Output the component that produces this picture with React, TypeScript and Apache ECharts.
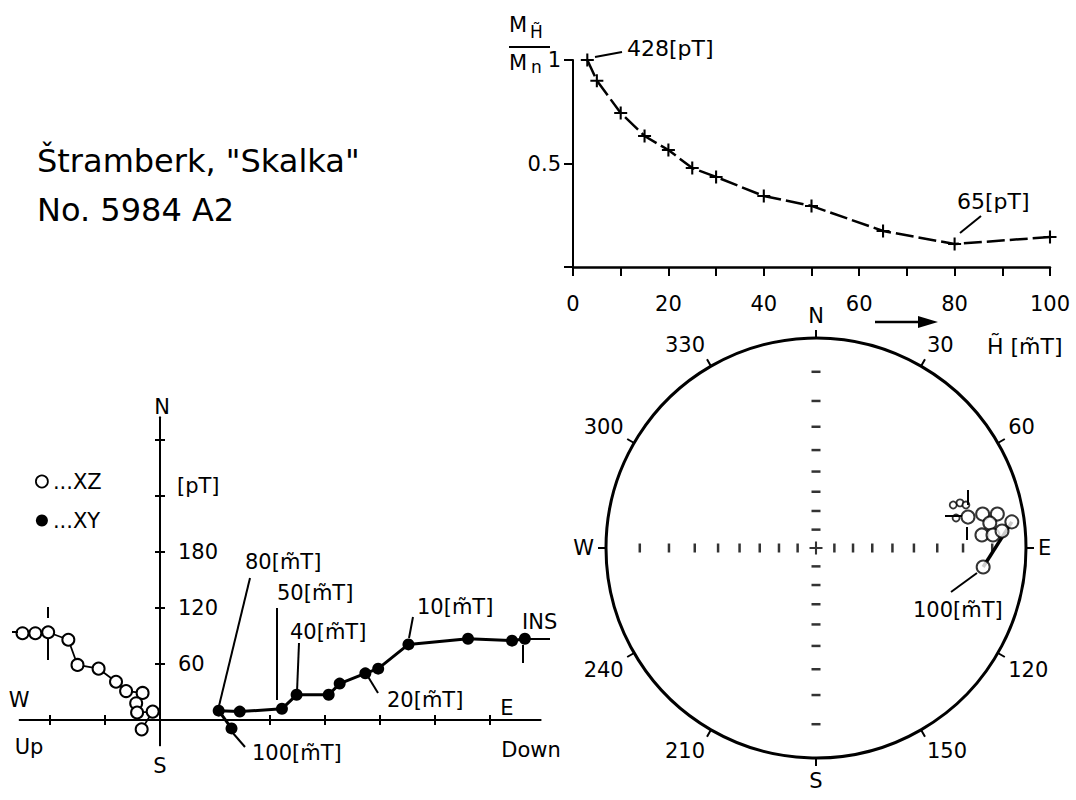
import React, { useEffect, useRef } from "react";
import * as echarts from "echarts";

// ---------- Demagnetisation curve (top right) ----------
const fieldSteps = [3, 5, 10, 15, 20, 25, 30, 40, 50, 65, 80, 100]; // H [mT]
const intensityRatio = [1.0, 0.9, 0.744, 0.633, 0.565, 0.478, 0.435, 0.343, 0.295, 0.174, 0.111, 0.145]; // M_H / M_n

// ---------- Zijderveld diagram (bottom left) ----------
// XY projection (filled): horizontal E component, vertical N component [pT]
const xyEast = [398, 384, 336, 271, 238, 224, 196, 184, 149, 133, 87, 64, 78];
const xyNorth = [87, 85, 87, 81, 55, 50, 39, 27, 27, 12, 9, 10, -9];
// XZ projection (open): horizontal Up/Down component, vertical N component [pT]
const xzVertical = [-150, -136, -122, -100, -90, -67, -48, -37, -19, -26, -25, -8, -20];
const xzNorth = [93, 93, 94, 86, 59, 55, 41, 31, 29, 18, 8, 9, -10];
const zijHorizontalTicks = [-120, -60, 120, 180, 240, 300, 360];
const zijVerticalTicks = [60, 120, 180, 240, 300];
const zijVerticalLabels = [60, 120, 180];

// ---------- Stereonet (bottom right) ----------
const stereoDec = [78.5, 78.5, 79.4, 81.8, 82.4, 85.5, 85.8, 84.8, 96.5];
const stereoInc = [-17.1, -12.0, -7.4, -10.2, -3.5, -13.2, -9.6, -6.7, -12.6];
const smallDec = [72.6, 72.6, 74.0, 77.9];
const smallInc = [-21.2, -18.6, -16.8, -21.4];
const inclinationTicks = [10, 20, 30, 40, 50, 60, 70, 80];
const compassLabels: Record<number, string> = { 0: "N", 90: "E", 180: "S", 270: "W", 360: "N" };

const FONT = '"DejaVu Sans", sans-serif';
const PLUS = "path://M4.2,0H5.8V4.2H10V5.8H5.8V10H4.2V5.8H0V4.2H4.2Z";

// Zijderveld grid placement
const ZG_LEFT = 19.75;
const ZG_TOP = 417.6;
const ZG_W = 520.7;
const ZG_H = 327.6;
const ZERO_X_PX = 160;

function stereoRadius(inc: number) {
  return Math.tan((((90 - Math.abs(inc)) / 2) * Math.PI) / 180);
}

function txt(text: string, x: number, y: number, size = 21, align = "left") {
  return {
    type: "text",
    x,
    y,
    silent: true,
    z: 50,
    style: {
      text,
      fill: "#000",
      fontSize: size,
      fontFamily: FONT,
      align,
      textAlign: align,
      verticalAlign: "middle",
      textVerticalAlign: "middle",
    },
  };
}

function ln(x1: number, y1: number, x2: number, y2: number, w = 2) {
  return {
    type: "line",
    silent: true,
    z: 50,
    shape: { x1, y1, x2, y2 },
    style: { stroke: "#000", lineWidth: w },
  };
}

export default function App() {
  const ref = useRef<HTMLDivElement>(null);

  useEffect(() => {
    if (!ref.current) return;
    const chart = echarts.init(ref.current, undefined, { renderer: "svg" });

    const incTickData: any[] = [];
    inclinationTicks.forEach((inc) => {
      [0, 90, 180, 270].forEach((az) => {
        incTickData.push({
          value: [stereoRadius(inc), az],
          symbolSize: az % 180 === 0 ? [9, 2.5] : [2.5, 9],
        });
      });
    });
    incTickData.push({ value: [0, 0], symbol: PLUS, symbolSize: 13 });

    const axisBlack = { color: "#000", width: 2 };
    const yOffset = -(ZERO_X_PX - ZG_LEFT);

    const option: any = {
      animation: false,
      backgroundColor: "#fff",
      textStyle: { fontFamily: FONT },
      legend: {
        orient: "vertical",
        left: 30,
        top: 466,
        itemWidth: 12,
        itemHeight: 12,
        itemGap: 18,
        selectedMode: false,
        formatter: (name: string) => "..." + name,
        textStyle: { fontSize: 21, color: "#000", fontFamily: FONT },
        data: [
          { name: "XZ", icon: "circle", itemStyle: { color: "#fff", borderColor: "#000", borderWidth: 1.8 } },
          { name: "XY", icon: "circle", itemStyle: { color: "#000", borderColor: "#000", borderWidth: 0 } },
        ],
      },
      grid: [
        { left: 573, top: 60, width: 477, height: 207, containLabel: false, outerBoundsMode: "none" },
        { left: ZG_LEFT, top: ZG_TOP, width: ZG_W, height: ZG_H, containLabel: false, outerBoundsMode: "none" },
      ],
      xAxis: [
        {
          gridIndex: 0,
          type: "value",
          position: "bottom",
          min: 0,
          max: 100,
          interval: 10,
          axisLine: { onZero: false, lineStyle: { color: "#000", width: 2.5 } },
          axisTick: { length: 9, lineStyle: axisBlack },
          axisLabel: {
            margin: 26,
            fontSize: 21,
            color: "#000",
            fontFamily: FONT,
            formatter: (v: number) => (v % 20 === 0 ? String(v) : ""),
          },
          splitLine: { show: false },
        },
        {
          gridIndex: 1,
          type: "value",
          position: "bottom",
          min: -153,
          max: 415,
          axisLine: { onZero: true, lineStyle: axisBlack },
          axisTick: { inside: true, length: 5, customValues: zijHorizontalTicks, lineStyle: axisBlack },
          axisLabel: { show: false },
          splitLine: { show: false },
        },
        {
          gridIndex: 1,
          type: "value",
          position: "bottom",
          min: -153,
          max: 415,
          axisLine: { onZero: true, lineStyle: axisBlack },
          axisTick: { inside: false, length: 5, customValues: zijHorizontalTicks, lineStyle: axisBlack },
          axisLabel: { show: false },
          splitLine: { show: false },
        },
      ],
      yAxis: [
        {
          gridIndex: 0,
          type: "value",
          position: "left",
          min: 0,
          max: 1,
          interval: 0.5,
          axisLine: { show: true, onZero: false, lineStyle: axisBlack },
          axisTick: { show: true, length: 9, lineStyle: axisBlack },
          axisLabel: {
            margin: 12,
            fontSize: 21,
            color: "#000",
            fontFamily: FONT,
            formatter: (v: number) => (v === 0 ? "" : v === 1 ? "1" : "0.5"),
          },
          splitLine: { show: false },
        },
        {
          gridIndex: 1,
          type: "value",
          position: "left",
          offset: yOffset,
          min: -27,
          max: 324,
          axisLine: { show: true, onZero: false, lineStyle: axisBlack },
          axisTick: { show: true, inside: true, length: 5, customValues: zijVerticalTicks, lineStyle: axisBlack },
          axisLabel: {
            inside: true,
            margin: 18,
            fontSize: 21,
            color: "#000",
            fontFamily: FONT,
            customValues: zijVerticalLabels,
          },
          splitLine: { show: false },
        },
        {
          gridIndex: 1,
          type: "value",
          position: "left",
          offset: yOffset,
          min: -27,
          max: 324,
          axisLine: { show: true, onZero: false, lineStyle: axisBlack },
          axisTick: { show: true, inside: false, length: 5, customValues: zijVerticalTicks, lineStyle: axisBlack },
          axisLabel: { show: false },
          splitLine: { show: false },
        },
      ],
      polar: { center: [816, 548], radius: 210 },
      angleAxis: {
        type: "value",
        min: 0,
        max: 360,
        interval: 30,
        startAngle: 90,
        clockwise: true,
        axisLine: { lineStyle: { color: "#000", width: 3 } },
        axisTick: { show: true, length: 8, lineStyle: { color: "#000", width: 2 } },
        axisLabel: {
          margin: 12,
          fontSize: 21,
          color: "#000",
          fontFamily: FONT,
          formatter: (v: number) => compassLabels[v] ?? String(v),
        },
        splitLine: { show: false },
        splitArea: { show: false },
      },
      radiusAxis: {
        min: 0,
        max: 1,
        axisLine: { show: false },
        axisTick: { show: false },
        axisLabel: { show: false },
        splitLine: { show: false },
      },
      series: [
        {
          name: "demag",
          type: "line",
          xAxisIndex: 0,
          yAxisIndex: 0,
          clip: false,
          data: fieldSteps.map((h, i) => [h, intensityRatio[i]]),
          symbol: PLUS,
          symbolSize: 13,
          itemStyle: { color: "#000" },
          lineStyle: { color: "#000", width: 2.5, type: [18, 5] },
        },
        {
          name: "XZ",
          type: "line",
          xAxisIndex: 1,
          yAxisIndex: 1,
          clip: false,
          data: xzVertical.map((x, i) => [x, xzNorth[i]]),
          symbol: "circle",
          symbolSize: 12,
          itemStyle: { color: "#fff", borderColor: "#000", borderWidth: 2 },
          lineStyle: { color: "#000", width: 1.8 },
          z: 3,
        },
        {
          name: "XY",
          type: "line",
          xAxisIndex: 1,
          yAxisIndex: 1,
          clip: false,
          data: xyEast.map((x, i) => [x, xyNorth[i]]),
          symbol: "circle",
          symbolSize: 12,
          itemStyle: { color: "#000" },
          lineStyle: { color: "#000", width: 3 },
          z: 3,
        },
        {
          name: "incTicks",
          type: "scatter",
          coordinateSystem: "polar",
          symbol: "rect",
          silent: true,
          itemStyle: { color: "#000" },
          data: incTickData,
        },
        {
          name: "stereoLink",
          type: "line",
          coordinateSystem: "polar",
          symbol: "none",
          silent: true,
          lineStyle: { color: "#000", width: 3.5 },
          data: [4, 8].map((i) => [stereoRadius(stereoInc[i]), stereoDec[i]]),
          z: 3,
        },
        {
          name: "stereoSmall",
          type: "scatter",
          coordinateSystem: "polar",
          symbol: "circle",
          symbolSize: 7,
          itemStyle: { color: "#fff", borderColor: "#000", borderWidth: 1.8 },
          data: smallDec.map((d, i) => [stereoRadius(smallInc[i]), d]),
          z: 4,
        },
        {
          name: "stereo",
          type: "scatter",
          coordinateSystem: "polar",
          symbol: "circle",
          symbolSize: 13,
          itemStyle: { color: "#fff", borderColor: "#000", borderWidth: 2 },
          data: stereoDec.map((d, i) => [stereoRadius(stereoInc[i]), d]),
          z: 5,
        },
      ],
      graphic: [
        // title
        txt("Štramberk, \"Skalka\"", 37, 161, 32),
        txt("No. 5984 A2", 37, 210, 32),
        // top chart annotations
        txt("M", 509, 25, 21),
        txt("H\u0303", 530, 32, 17),
        ln(509, 47, 550, 47, 2),
        txt("M", 509, 63, 21),
        txt("n", 531, 67, 17),
        txt("428[pT]", 627, 48, 22),
        ln(595, 57, 622, 52, 2),
        txt("65[pT]", 957, 201, 22),
        ln(960, 233, 981, 216, 2),
        ln(875, 322, 922, 322, 2.5),
        { type: "polygon", silent: true, shape: { points: [[918, 316], [938, 322], [918, 328]] }, style: { fill: "#000" } },
        txt("H\u0303 [m\u0303T]", 987, 346, 22),
        // stereonet annotations
        txt("100[m\u0303T]", 913, 610, 21),
        ln(951, 592, 977, 573, 2),
        ln(945, 516, 962, 516, 2),
        ln(968, 490, 968, 505, 2),
        ln(967, 527, 967, 540, 2),
        // Zijderveld labels
        txt("N", 162, 407, 21, "center"),
        txt("S", 160, 766, 21, "center"),
        txt("W", 19, 700, 21, "center"),
        txt("Up", 29, 747, 21, "center"),
        txt("E", 507, 708, 21, "center"),
        txt("Down", 531, 750, 21, "center"),
        txt("[pT]", 177, 486, 21),
        txt("80[m\u0303T]", 245, 562, 21),
        ln(250, 578, 218, 710, 2),
        txt("50[m\u0303T]", 277, 593, 21),
        ln(277, 608, 277, 700, 2),
        txt("40[m\u0303T]", 290, 632, 21),
        ln(299, 643, 297, 692, 2),
        txt("10[m\u0303T]", 417, 607, 21),
        ln(413, 617, 409, 638, 2),
        txt("INS", 522, 622, 21),
        ln(528, 639, 550, 639, 2),
        ln(523, 645, 523, 663, 2),
        txt("20[m\u0303T]", 387, 700, 21),
        ln(378, 693, 367, 675, 2),
        txt("100[m\u0303T]", 252, 753, 21),
        ln(245, 747, 232, 732, 2),
        ln(48, 607, 48, 618, 2),
        ln(48, 638, 48, 660, 2),
        ln(12, 632, 18, 632, 2),
      ],
    };

    chart.setOption(option);
    return () => chart.dispose();
  }, []);

  return (
    <div
      ref={ref}
      style={{ position: "absolute", left: 0, top: 0, width: 1076, height: 800 }}
    />
  );
}
